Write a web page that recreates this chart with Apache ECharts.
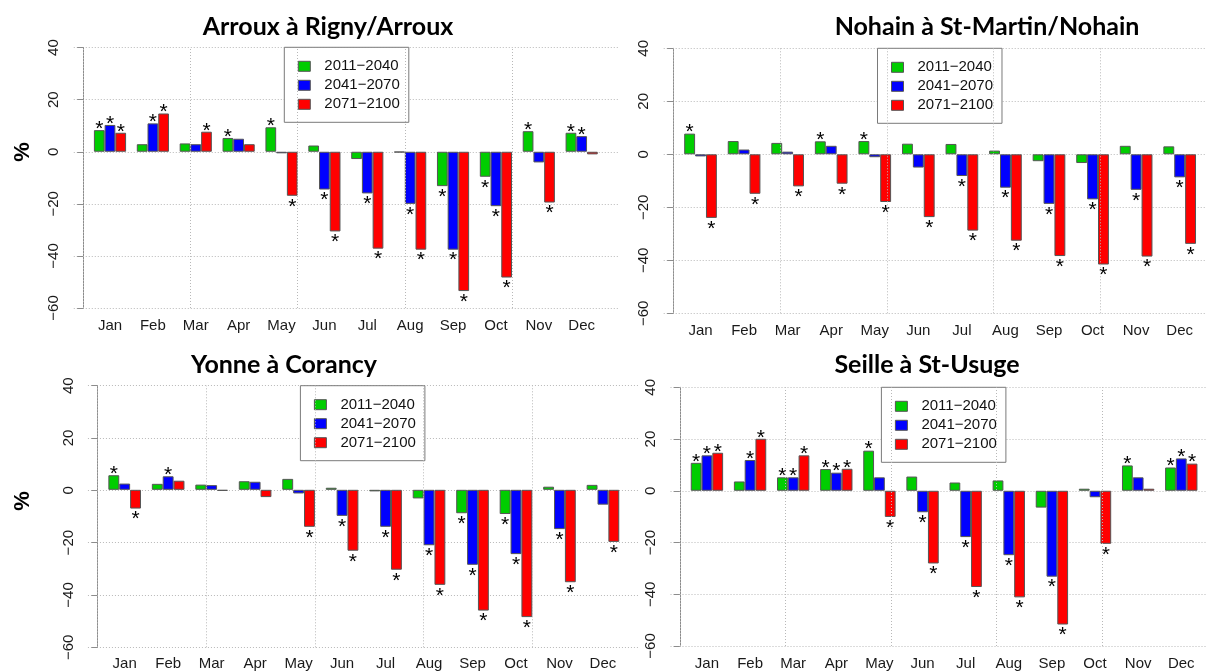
<!DOCTYPE html>
<html>
<head>
<meta charset="utf-8">
<script src="https://cdn.jsdelivr.net/npm/echarts@6/dist/echarts.min.js"></script>
<style>
  html, body { margin: 0; padding: 0; background: #fff; }
  #chart { width: 1206px; height: 671px; }
</style>
</head>
<body>
<div id="chart"></div>
<script>
// Monthly change in discharge (%) for three future periods, four gauging stations.
const months = ['Jan', 'Feb', 'Mar', 'Apr', 'May', 'Jun', 'Jul', 'Aug', 'Sep', 'Oct', 'Nov', 'Dec'];
const periods = ['2011\u22122040', '2041\u22122070', '2071\u22122100'];
const yMin = -60, yMax = 40, yStep = 20;
// vertical reference lines, in bar-plot units (one group = 3 bars + 1 space)
const gridLineX = [0, 10, 20, 30, 40];

// Arroux à Rigny/Arroux
const arroux2011 = [8.3, 2.9, 3.2, 5.3, 9.4, 2.4, -2.8, -0.2, -13.2, -9.6, 7.9, 7.3];
const arroux2041 = [10.3, 10.9, 2.9, 5.0, -0.6, -14.5, -16.0, -20.0, -37.6, -20.9, -4.1, 6.0];
const arroux2071 = [7.3, 14.7, 7.7, 2.9, -16.9, -30.6, -37.2, -37.6, -53.5, -48.3, -19.5, -1.0];
const arrouxSig2011 = [1, 0, 0, 1, 1, 0, 0, 0, 1, 1, 1, 1];
const arrouxSig2041 = [1, 1, 0, 0, 0, 1, 1, 1, 1, 1, 0, 1];
const arrouxSig2071 = [1, 1, 1, 0, 1, 1, 1, 1, 1, 1, 1, 0];

// Nohain à St-Martin/Nohain
const nohain2011 = [7.8, 5.0, 4.3, 4.9, 5.0, 4.0, 3.9, 1.4, -2.6, -3.3, 3.2, 3.0];
const nohain2041 = [-0.8, 1.8, 1.0, 3.2, -1.1, -5.0, -8.2, -12.6, -18.7, -17.0, -13.4, -8.7];
const nohain2071 = [-24.0, -14.9, -12.1, -11.1, -18.0, -23.7, -28.8, -32.6, -38.4, -41.6, -38.6, -33.8];
const nohainSig2011 = [1, 0, 0, 1, 1, 0, 0, 0, 0, 0, 0, 0];
const nohainSig2041 = [0, 0, 0, 0, 0, 0, 1, 1, 1, 1, 1, 1];
const nohainSig2071 = [1, 1, 1, 1, 1, 1, 1, 1, 1, 1, 1, 1];

// Yonne à Corancy
const yonne2011 = [5.6, 2.3, 2.0, 3.3, 4.2, 0.8, -0.6, -3.3, -9.0, -9.3, 1.2, 1.9];
const yonne2041 = [2.4, 5.2, 1.8, 3.1, -1.4, -10.0, -14.2, -21.3, -28.8, -24.7, -15.1, -5.7];
const yonne2071 = [-7.2, 3.5, -0.4, -2.8, -14.2, -23.4, -30.7, -36.5, -46.4, -48.9, -35.5, -20.0];
const yonneSig2011 = [1, 0, 0, 0, 0, 0, 0, 0, 1, 1, 0, 0];
const yonneSig2041 = [0, 1, 0, 0, 0, 1, 1, 1, 1, 1, 1, 0];
const yonneSig2071 = [1, 0, 0, 0, 1, 1, 1, 1, 1, 1, 1, 1];

// Seille à St-Usuge
const seille2011 = [10.8, 3.6, 5.2, 8.4, 15.5, 5.5, 3.2, 4.0, -6.5, 0.8, 9.8, 9.0];
const seille2041 = [13.7, 11.9, 5.2, 7.0, 5.2, -8.3, -17.9, -24.9, -33.2, -2.5, 5.2, 12.5];
const seille2071 = [14.7, 20.1, 13.7, 8.5, -10.1, -28.1, -37.2, -41.2, -51.7, -20.5, 0.8, 10.5];
const seilleSig2011 = [1, 0, 1, 1, 1, 0, 0, 0, 0, 0, 1, 1];
const seilleSig2041 = [1, 1, 1, 1, 0, 1, 1, 1, 1, 0, 0, 1];
const seilleSig2071 = [1, 1, 1, 1, 1, 1, 1, 1, 1, 1, 0, 1];

const colors = ['#00CD00', '#0000FF', '#FF0000'];

// Panel placement: x0 = pixel of bar-plot unit 0, unit = px per bar width,
// yTop / yBot = pixel rows of the axis max / min.
const panels = [
  { title: 'Arroux à Rigny/Arroux', values: [arroux2011, arroux2041, arroux2071],
    sig: [arrouxSig2011, arrouxSig2041, arrouxSig2071],
    x0: 83.2, unit: 10.72, yTop: 47.6, yBot: 308, titleX: 328, titleY: 27,
    legendX: 284.3, legendY: 47.3, pct: 152 },
  { title: 'Nohain à St-Martin/Nohain', values: [nohain2011, nohain2041, nohain2071],
    sig: [nohainSig2011, nohainSig2041, nohainSig2071],
    x0: 673.3, unit: 10.89, yTop: 48.3, yBot: 313.3, titleX: 987, titleY: 27,
    legendX: 877.5, legendY: 48.3, pct: null },
  { title: 'Yonne à Corancy', values: [yonne2011, yonne2041, yonne2071],
    sig: [yonneSig2011, yonneSig2041, yonneSig2071],
    x0: 97.5, unit: 10.87, yTop: 385.7, yBot: 647.3, titleX: 284, titleY: 365,
    legendX: 300.4, legendY: 385.7, pct: 501 },
  { title: 'Seille à St-Usuge', values: [seille2011, seille2041, seille2071],
    sig: [seilleSig2011, seilleSig2041, seilleSig2071],
    x0: 680, unit: 10.78, yTop: 387.3, yBot: 646, titleX: 927, titleY: 365,
    legendX: 881.4, legendY: 387.3, pct: null }
];

// barplot geometry: groups of 3 bars with one bar-width of space before each group
const barsPerGroup = 3, spaceUnits = 1;
const groupUnits = barsPerGroup + spaceUnits;
const barsLo = spaceUnits, barsHi = months.length * groupUnits;
const xPad = 0.04 * (barsHi - barsLo);
const xLo = barsLo - xPad, xHi = barsHi + xPad;
// category bands are centred on each group of bars
const bandLo = spaceUnits - 0.5, bandHi = barsHi + 0.5;

const textFont = 'Liberation Sans, Arial, Helvetica, sans-serif';
const minus = v => String(v).replace('-', '\u2212');
const gridDots = { type: [1, 2], color: '#b8b8b8', width: 1 };

const grids = [], xAxes = [], yAxes = [], series = [], legends = [], graphics = [];

panels.forEach((p, k) => {
  const fi = 2 * k, bi = 2 * k + 1;
  const h = p.yBot - p.yTop;
  // frame: axis, dotted reference grid
  grids.push({ left: p.x0 + xLo * p.unit, top: p.yTop, width: (xHi - xLo) * p.unit, height: h });
  // bars
  grids.push({ left: p.x0 + bandLo * p.unit, top: p.yTop, width: (bandHi - bandLo) * p.unit, height: h });

  xAxes.push({ gridIndex: fi, type: 'value', min: xLo, max: xHi, show: false });
  xAxes.push({
    gridIndex: bi, type: 'category', data: months, boundaryGap: true,
    axisLine: { show: false }, axisTick: { show: false }, splitLine: { show: false },
    axisLabel: { interval: 0, margin: 10, fontSize: 15, color: '#1a1a1a', fontFamily: textFont }
  });

  yAxes.push({
    gridIndex: fi, type: 'value', min: yMin, max: yMax, interval: yStep,
    axisLine: { show: true, lineStyle: { color: '#8c8c8c', width: 1 } },
    axisTick: { show: true, length: 6, lineStyle: { color: '#8c8c8c', width: 1 } },
    axisLabel: { rotate: 90, margin: 12, fontSize: 15, color: '#1a1a1a', fontFamily: textFont, formatter: minus },
    splitLine: { show: true, lineStyle: gridDots }
  });
  yAxes.push({ gridIndex: bi, type: 'value', min: yMin, max: yMax, show: false });

  series.push({
    type: 'line', xAxisIndex: fi, yAxisIndex: fi, data: [], silent: true,
    markLine: {
      silent: true, symbol: ['none', 'none'], label: { show: false },
      lineStyle: gridDots,
      data: gridLineX.map(x => ({ xAxis: x }))
    }
  });

  periods.forEach((name, s) => {
    series.push({
      type: 'bar', name, xAxisIndex: bi, yAxisIndex: bi,
      barGap: '0%', barCategoryGap: '25%',
      itemStyle: { color: colors[s], borderColor: '#555', borderWidth: 1 },
      data: p.values[s].map((v, i) => ({
        value: v,
        label: {
          show: p.sig[s][i] === 1,
          position: v >= 0 ? 'top' : 'bottom',
          distance: 0,
          offset: v >= 0 ? [0, 9.5] : [0, 0.5],
          formatter: '*', fontSize: 21, color: '#000', fontFamily: textFont
        }
      }))
    });
  });

  legends.push({
    orient: 'vertical', left: p.legendX, top: p.legendY, data: periods,
    padding: [11.5, 9, 10.5, 13.5], itemWidth: 12, itemHeight: 10, itemGap: 4,
    icon: 'rect', selectedMode: false,
    borderColor: '#7a7a7a', borderWidth: 1, backgroundColor: '#fff', borderRadius: 0,
    itemStyle: { borderColor: '#555', borderWidth: 1 },
    textStyle: { fontFamily: textFont, fontSize: 15, color: '#111', lineHeight: 15, padding: [0, 0, 0, 9] }
  });

  graphics.push({
    type: 'text', x: p.titleX, y: p.titleY, silent: true,
    style: { text: p.title, fill: '#000', font: 'bold 25px Lato, "Open Sans", sans-serif',
             textAlign: 'center', textVerticalAlign: 'middle' }
  });
  if (p.pct !== null) {
    graphics.push({
      type: 'text', x: 23, y: p.pct, rotation: Math.PI / 2, silent: true,
      style: { text: '%', fill: '#000', font: 'bold 22px "Liberation Sans", Arial, sans-serif',
               textAlign: 'center', textVerticalAlign: 'middle' }
    });
  }
});

const chart = echarts.init(document.getElementById('chart'));
chart.setOption({
  animation: false,
  backgroundColor: '#fff',
  grid: grids, xAxis: xAxes, yAxis: yAxes,
  legend: legends, series, graphic: graphics
});
</script>
</body>
</html>
